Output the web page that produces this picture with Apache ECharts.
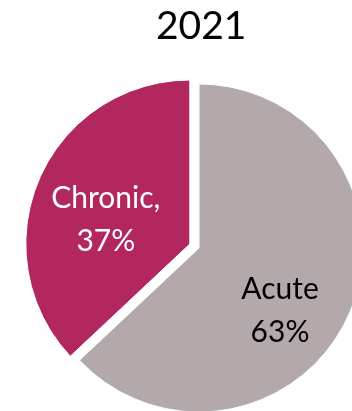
<!DOCTYPE html>
<html>
<head>
<meta charset="utf-8">
<script src="https://cdn.jsdelivr.net/npm/echarts@6/dist/echarts.min.js"></script>
<style>
  html, body { margin: 0; padding: 0; background: #ffffff; }
  #chart { width: 352px; height: 411px; }
</style>
</head>
<body>
<div id="chart"></div>
<script>
const year = '2021'
const categories = ['Acute', 'Chronic']
const shares = [63, 37]
const labelTexts = ['Acute\n63%', 'Chronic,\n37%']

const colors = ['#B4A9AA', '#B3275F']
const labelColors = ['#000000', '#ffffff']
// nudge labels off the default mid-radius spot
const labelOffsets = [[3, 29], [-6, 10]]

const chart = echarts.init(document.getElementById('chart'), null, { renderer: 'canvas' })
const font = 'Lato, "Open Sans", sans-serif'

chart.setOption({
  backgroundColor: '#ffffff',
  animation: false,
  title: {
    text: year,
    left: 151,
    top: 2,
    textStyle: { fontFamily: font, fontSize: 39, fontWeight: 'normal', color: '#000000' }
  },
  series: [{
    type: 'pie',
    center: [199, 248],
    radius: [0, 164],
    startAngle: 90,
    clockwise: true,
    selectedMode: 'single',
    selectedOffset: 10,
    label: {
      show: true,
      position: 'inside',
      fontFamily: font,
      fontSize: 30,
      lineHeight: 43,
      align: 'center'
    },
    labelLine: { show: false },
    emphasis: { disabled: true },
    itemStyle: { borderColor: '#ffffff', borderWidth: 1 },
    data: categories.map((c, i) => ({
      name: c,
      value: shares[i],
      selected: i === 1,
      itemStyle: { color: colors[i] },
      label: { formatter: labelTexts[i], color: labelColors[i], offset: labelOffsets[i] },
      select: { label: { offset: labelOffsets[i] } }
    }))
  }]
})
</script>
</body>
</html>
